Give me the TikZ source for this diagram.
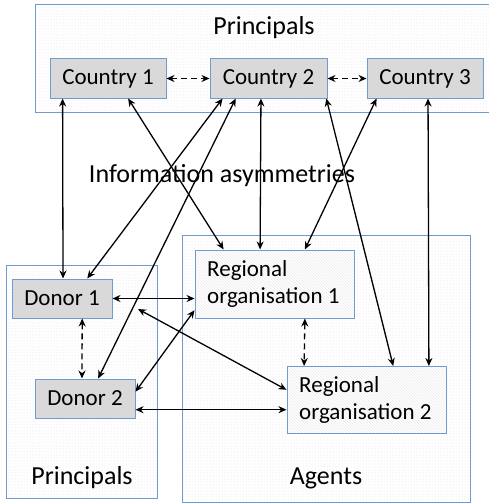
\documentclass[tikz,border=0pt]{standalone}
\usepackage{fontspec}
\setmainfont{Carlito}
\usetikzlibrary{arrows.meta,calc,patterns}
\definecolor{bordblue}{HTML}{6F9BD1}
\definecolor{boxgray}{HTML}{D9D9D9}
\tikzset{
  outerbox/.style={draw=bordblue, line width=1pt, fill=white, postaction={pattern=dots, pattern color=black!12}, postaction={draw=bordblue, line width=1pt}},
  cbox/.style={draw=bordblue, line width=1pt, fill=boxgray, inner sep=0pt, font=\fontsize{23}{27}\selectfont},
  robox/.style={draw=bordblue, line width=1pt, fill=white, postaction={pattern=north west lines, pattern color=black!8}, postaction={draw=bordblue, line width=1pt}, inner sep=0pt},
  rotext/.style={align=left, inner sep=0pt, anchor=north west, font=\fontsize{23}{27}\selectfont},
  title/.style={inner sep=0pt, font=\fontsize{26}{30}\selectfont},
  link/.style={line width=1.3pt, {Stealth[length=8pt,width=7pt]}-{Stealth[length=8pt,width=7pt]}},
  dlink/.style={link, dash pattern=on 6pt off 4pt},
}
\begin{document}
\begin{tikzpicture}[x=1pt,y=-1pt]
\useasboundingbox (0,0) rectangle (489,503);
% outer boxes
\node[outerbox, minimum width=458pt, minimum height=107pt, inner sep=0pt] (topbox) at (264,58.5) {};
\node[outerbox, minimum width=151pt, minimum height=233pt, inner sep=0pt] (leftbox) at (81.5,381.5) {};
\node[outerbox, minimum width=288pt, minimum height=267pt, inner sep=0pt] (agentbox) at (326,368.5) {};
% titles
\node[title] (ptop) at (264,28) {Principals};
\node[title] (pleft) at (82,478) {Principals};
\node[title] (agents) at (326,478) {Agents};
\node[title] (info) at (222,176) {Information asymmetries};
% countries
\node[cbox, minimum width=116pt, minimum height=39pt] (c1) at (108,78.5) {Country 1};
\node[cbox, minimum width=117pt, minimum height=39pt] (c2) at (268.5,78.5) {Country 2};
\node[cbox, minimum width=116pt, minimum height=39pt] (c3) at (425,78.5) {Country 3};
% donors
\node[cbox, minimum width=100pt, minimum height=39pt] (d1) at (62,298.5) {Donor 1};
\node[cbox, minimum width=100pt, minimum height=39pt] (d2) at (85,398.5) {Donor 2};
% regional organisations
\node[robox, minimum width=159pt, minimum height=68pt] (r1) at (274.5,284) {};
\node[rotext] (r1t) at (207,260) {Regional\\organisation 1};
\node[robox, minimum width=159pt, minimum height=67pt] (r2) at (366.5,400) {};
\node[rotext] (r2t) at (299,376) {Regional\\organisation 2};
\coordinate (free) at (138,309);
\coordinate (d2low) at ($(d2.north east)!0.78!(d2.south east)$);
% dashed links
\draw[dlink] (c1.east) -- (c2.west);
\draw[dlink] (c2.east) -- (c3.west);
\draw[dlink] ($(d1.south west)!0.70!(d1.south east)$) -- ($(d2.north west)!0.47!(d2.north east)$);
\draw[dlink] ($(r1.south west)!0.69!(r1.south east)$) -- ($(r2.north west)!0.11!(r2.north east)$);
% solid links
\draw[link] ($(c1.south west)!0.112!(c1.south east)$) -- ($(d1.north west)!0.51!(d1.north east)$);
\draw[link] ($(c1.south west)!0.672!(c1.south east)$) -- ($(r1.north west)!0.182!(r1.north east)$);
\draw[link] ($(c2.south west)!0.111!(c2.south east)$) -- ($(d1.north west)!0.75!(d1.north east)$);
\draw[link] ($(c2.south west)!0.222!(c2.south east)$) -- ($(d2.north west)!0.63!(d2.north east)$);
\draw[link] ($(c2.south west)!0.436!(c2.south east)$) -- ($(r1.north west)!0.41!(r1.north east)$);
\draw[link] ($(c2.south west)!0.99!(c2.south east)$) -- ($(r2.north west)!0.667!(r2.north east)$);
\draw[link] ($(c3.south west)!0.086!(c3.south east)$) -- ($(r1.north west)!0.69!(r1.north east)$);
\draw[link] ($(c3.south west)!0.526!(c3.south east)$) -- ($(r2.north west)!0.89!(r2.north east)$);
\draw[link] (d1.east) -- (d1.east -| r1.west);
\draw[link] (free) -- ($(r2.north west)!0.35!(r2.south west)$);
\draw[link] ($(d2.north east)!0.33!(d2.south east)$) -- ($(r1.north west)!0.88!(r1.south west)$);
\draw[link] (d2low) -- (d2low -| r2.west);
\end{tikzpicture}
\end{document}
